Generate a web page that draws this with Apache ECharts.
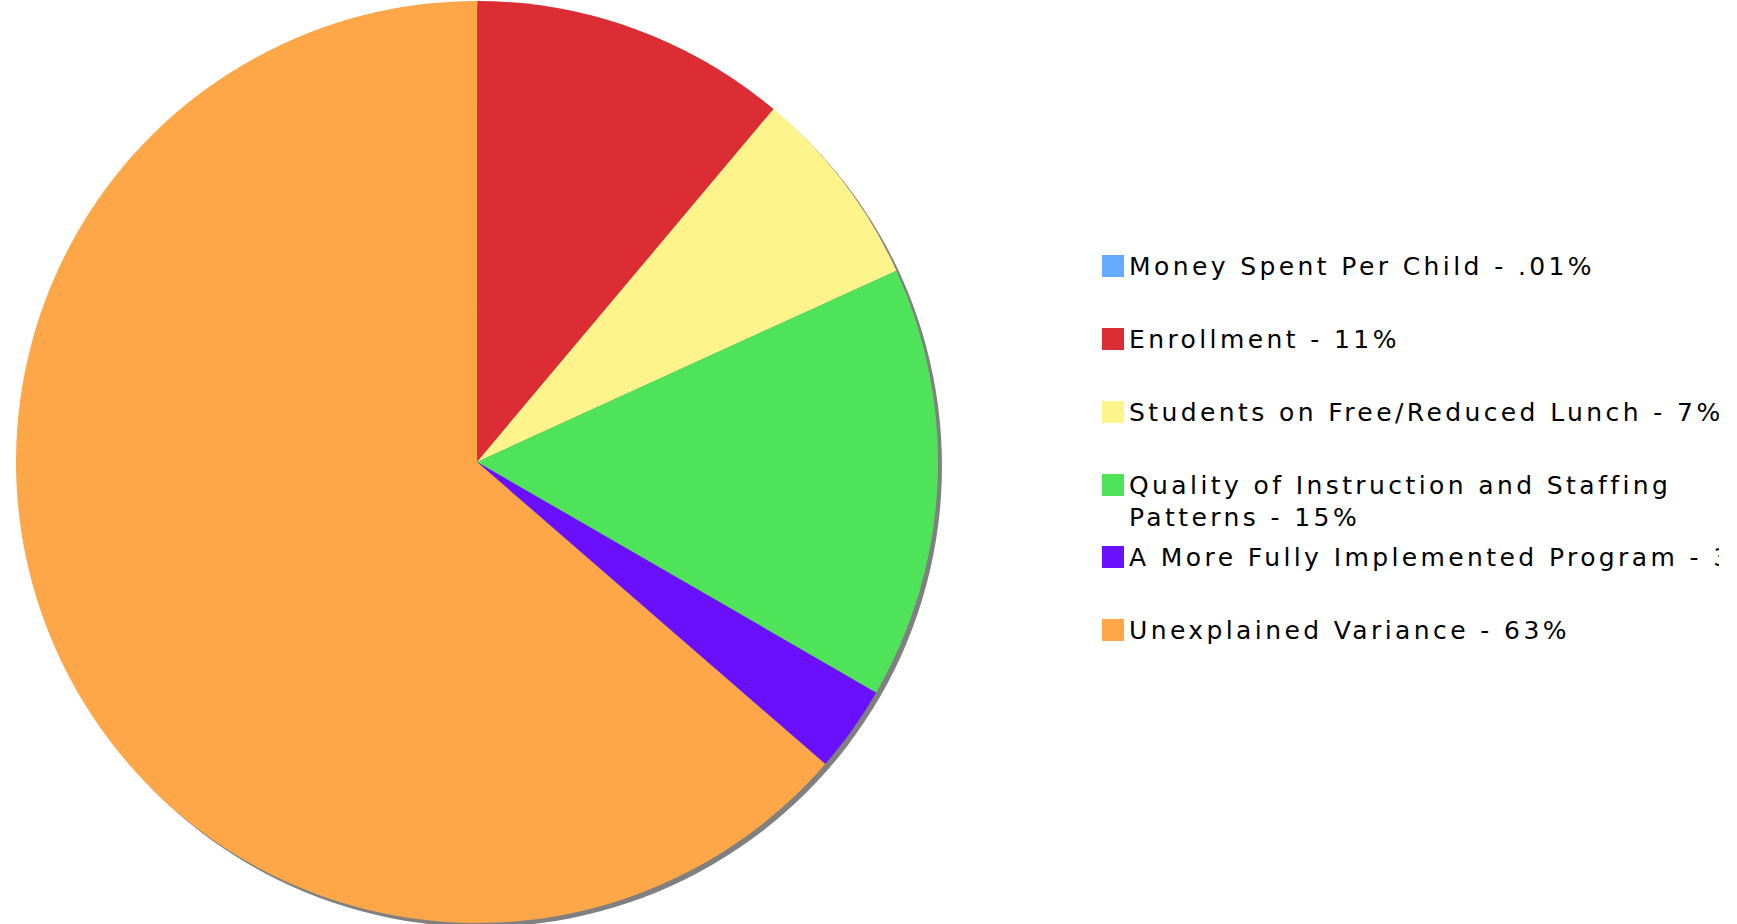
<!DOCTYPE html>
<html>
<head>
<meta charset="utf-8">
<script src="https://cdn.jsdelivr.net/npm/echarts@6/dist/echarts.min.js"></script>
<style>
  html, body { margin: 0; padding: 0; background: #fff; overflow: hidden; }
  #main { width: 1719px; height: 924px; overflow: hidden; }
  /* 图例文字字距 */
  #main svg text { letter-spacing: 3.4px; }
</style>
</head>
<body>
<div id="main"></div>
<script>
// 数据
const names = [
    'Money Spent Per Child',
    'Enrollment',
    'Students on Free/Reduced Lunch',
    'Quality of Instruction and Staffing Patterns',
    'A More Fully Implemented Program',
    'Unexplained Variance'
];
const values = [0.01, 11, 7, 15, 3, 63];
const valueLabels = ['.01%', '11%', '7%', '15%', '3%', '63%'];

const colors = ['#66aaff', '#dc2c34', '#fff48c', '#4fe35a', '#6b10ff', '#fda748'];

// 图例每项的中心 y
const legendY = [266, 339, 412, 485, 557, 630];
const lineH = 32;

var chart = echarts.init(document.getElementById('main'), null, { renderer: 'svg' });

var pieData = names.map(function (n, i) {
    return { name: n, value: values[i], itemStyle: { color: colors[i] } };
});

var legends = names.map(function (n, i) {
    var text = n + ' - ' + valueLabels[i];
    var multi = n.indexOf('Staffing') >= 0;
    // 第一行空出来，让 Quality 这一行对齐色块
    if (multi) text = '\nQuality of Instruction and Staffing\nPatterns - ' + valueLabels[i];
    return {
        orient: 'vertical',
        left: 1102,
        top: multi ? legendY[i] - lineH * 1.5 : legendY[i] - lineH / 2,
        padding: 0,
        data: [n],
        itemWidth: 22,
        itemHeight: 22,
        itemGap: 0,
        icon: 'rect',
        selectedMode: false,
        formatter: function () { return text; },
        textStyle: {
            fontFamily: 'DejaVu Sans',
            fontSize: 25,
            color: '#000',
            lineHeight: lineH
        }
    };
});

var option = {
    animation: false,
    legend: legends,
    series: [
        {
            // 阴影
            type: 'pie',
            silent: true,
            z: 1,
            center: [481, 466],
            radius: 461,
            label: { show: false },
            labelLine: { show: false },
            data: [{ value: 1, itemStyle: { color: '#808080' } }]
        },
        {
            type: 'pie',
            z: 2,
            center: [477, 462],
            radius: 461,
            startAngle: 90,
            clockwise: true,
            label: { show: false },
            labelLine: { show: false },
            emphasis: { scale: false },
            itemStyle: { borderWidth: 0 },
            data: pieData
        }
    ]
};

chart.setOption(option);
</script>
</body>
</html>
